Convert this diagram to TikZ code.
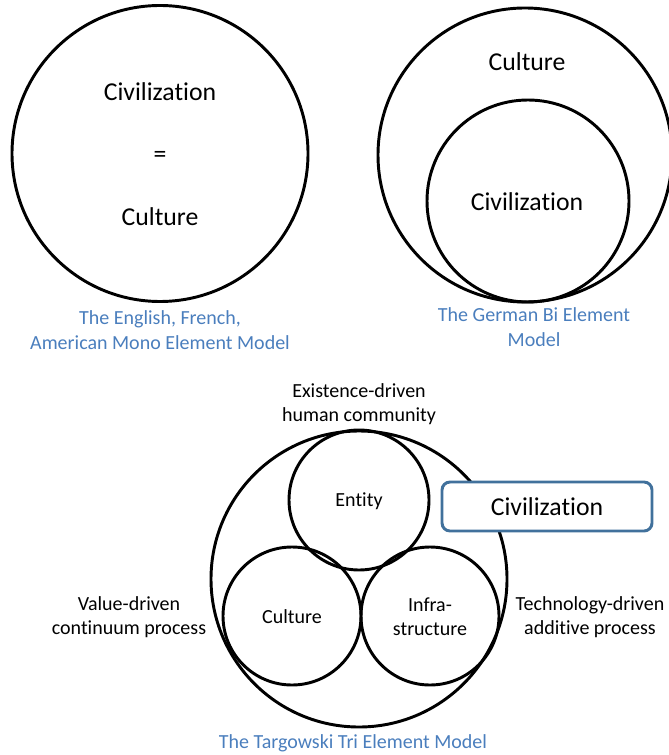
\documentclass[tikz,border=0pt]{standalone}
\usepackage{fontspec}
\setmainfont[RawFeature={-liga}]{Carlito}
\usepackage{tikz}
\definecolor{capblue}{RGB}{74,126,189}
\definecolor{boxblue}{RGB}{65,113,156}
\tikzset{
  ring/.style={circle,draw,line width=2.2pt,inner sep=0pt,minimum size=#1},
  bigtxt/.style={font=\fontsize{19.3}{23}\selectfont},
  lbl/.style={font=\fontsize{15}{18}\selectfont,align=center},
  caption/.style={font=\fontsize{15}{18.75}\selectfont,align=center,text=capblue},
}

\begin{document}
\begin{tikzpicture}[x=0.75pt,y=-0.75pt]
%%Frame
\useasboundingbox (0,0) rectangle (668,755);

%%Mono element model
\node[ring=222pt] (mono) at (160,153.5) {};
\node[bigtxt] (monociv) at (160,92) {Civilization};
\node[bigtxt] (monoeq) at (160,157) {=};
\node[bigtxt] (monocul) at (160,217) {Culture};
\node[caption] (monocap) at (160,330) {The English, French,\\American Mono Element Model};

%%Bi element model
\node[ring=220.5pt] (bi) at (525,155) {};
\node[ring=151.5pt] (biciv) at (528,201) {};
\node[bigtxt] (bicultxt) at (527,62) {Culture};
\node[bigtxt] (bicivtxt) at (527,202) {Civilization};
\node[caption] (bicap) at (534,327) {The German Bi Element\\Model};

%%Tri element model
\node[ring=222pt] (tri) at (359,579) {};
\node[ring=105pt] (entity) at (359,500) {};
\node[ring=103.5pt] (culture) at (292,616) {};
\node[ring=103.5pt] (infra) at (430,616) {};
\node[draw=boxblue,fill=white,line width=2.2pt,rounded corners=6pt,
      minimum width=157.5pt,minimum height=36.75pt,bigtxt] (civbox) at (547,506.5) {Civilization};

%%Label
\node[lbl] (entitytxt) at (359,501) {Entity};
\node[lbl] (culturetxt) at (292,617) {Culture};
\node[lbl] (infratxt) at (430,617) {Infra-\\structure};
\node[lbl] (existence) at (359,404.5) {Existence-driven\\human community};
\node[lbl] (value) at (129,617) {Value-driven\\continuum process};
\node[lbl] (techno) at (590,617) {Technology-driven\\additive process};
\node[caption] (tricap) at (353,743) {The Targowski Tri Element Model};
\end{tikzpicture}
\end{document}
